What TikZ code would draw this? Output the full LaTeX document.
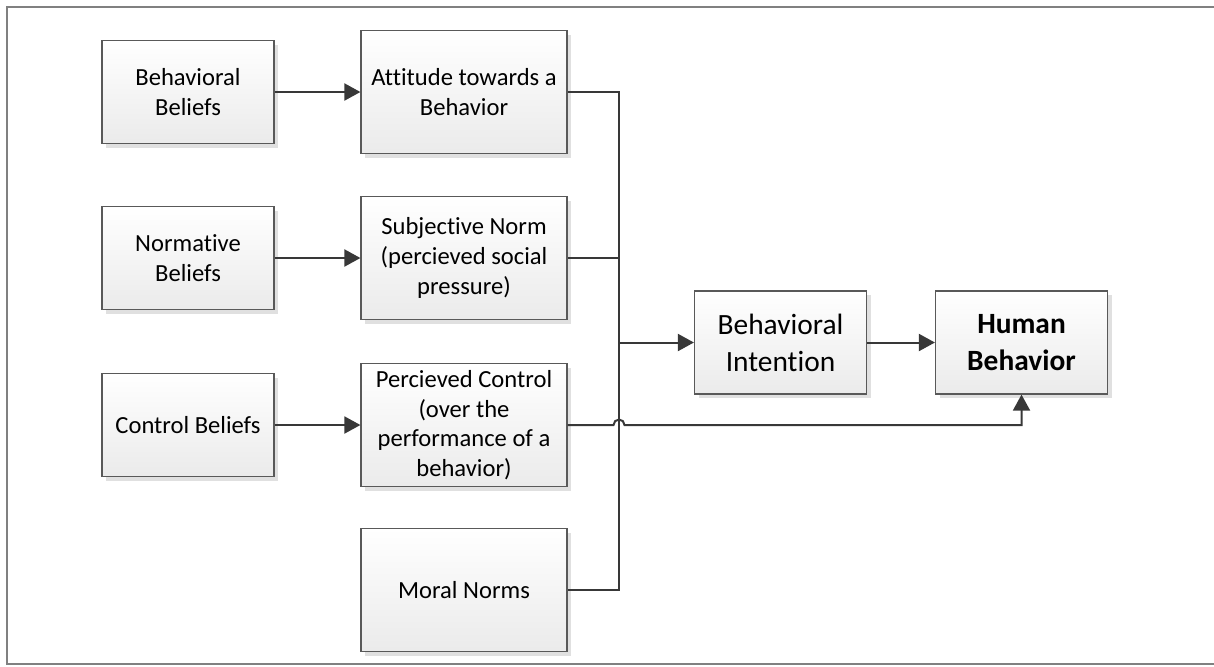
\documentclass[tikz,border=0pt]{standalone}
\usepackage{fontspec}
\setmainfont{Carlito}[Ligatures=NoCommon]
\usetikzlibrary{arrows.meta,shadows,calc}
\colorlet{box edge}{black!65}
\colorlet{box shade}{black!8}
\colorlet{link line}{black!78}
\tikzset{box/.style={draw=box edge, line width=0.6pt, top color=white, bottom color=box shade,
        align=center, inner sep=2pt, font=\fontsize{12.3}{14.8}\selectfont,
        drop shadow={shadow xshift=2pt, shadow yshift=-2pt, fill=black!12, opacity=1}},
    small/.style={minimum width=86pt, minimum height=51.5pt},
    wide/.style={minimum width=103pt, minimum height=61.5pt},
    big/.style={font=\fontsize{14.7}{18.5}\selectfont},
    link/.style={draw=link line, line width=1pt},
    arrow/.style={link, -{Triangle[length=8pt, width=8.5pt]}}}

\begin{document}
\begin{tikzpicture}[x=0.5pt, y=-0.5pt]
    \useasboundingbox (0,0) rectangle (1214,666);
    \draw[black!50, line width=1pt] (1214,7) -- (7,7) -- (7,664) -- (1214,664);
    % beliefs
    \node[box, small] (bbel) at (188,92)  {Behavioral\\Beliefs};
    \node[box, small] (nbel) at (188,258) {Normative\\Beliefs};
    \node[box, small] (cbel) at (188,425) {Control Beliefs};
    % determinants
    \node[box, wide] (att)   at (464,92)  {Attitude towards a\\Behavior};
    \node[box, wide] (snorm) at (464,258) {Subjective Norm\\(percieved social\\pressure)};
    \node[box, wide] (pctrl) at (464,425) {Percieved Control\\(over the\\performance of a\\behavior)};
    \node[box, wide] (mnorm) at (464,590) {Moral Norms};
    % outcome
    \node[box, small, big] (bint) at (780.5,342.5) {Behavioral\\Intention};
    \node[box, small, big] (hbeh) at (1021.5,342.5) {\bfseries Human\\\bfseries Behavior};
    \coordinate (bus) at (619,342.5);

    \draw[arrow] (bbel) -- (att);
    \draw[arrow] (nbel) -- (snorm);
    \draw[arrow] (cbel) -- (pctrl);
    \draw[link] (att.east) -| (bus) |- (mnorm.east);
    \draw[link] (snorm.east) -- (snorm.east -| bus);
    \draw[arrow] (bus) -- (bint);
    \draw[arrow] (pctrl.east) -- ($(pctrl.east -| bus)+(-5.5,0)$)
        arc[start angle=180, end angle=0, radius=2.75pt] -| (hbeh.south);
    \draw[arrow] (bint) -- (hbeh);
\end{tikzpicture}
\end{document}
